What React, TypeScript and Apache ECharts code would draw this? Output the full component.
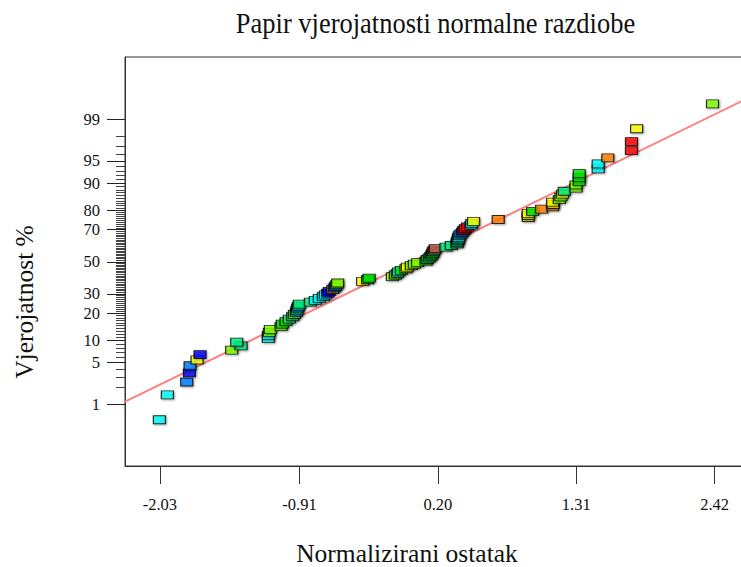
import React, { useEffect, useRef } from "react";
import * as echarts from "echarts";

// Normalised residuals, sorted (x values)
const residuals = [
  -2.034, -1.97, -1.815, -1.793, -1.788, -1.732, -1.708, -1.454, -1.379, -1.414,
  -1.16, -1.16, -1.152, -1.144, -1.058, -1.048, -1.018, -0.992, -0.965, -0.951,
  -0.935, -0.931, -0.925, -0.919, -0.911, -0.823, -0.783, -0.751, -0.719, -0.703,
  -0.684, -0.671, -0.644, -0.631, -0.62, -0.611, -0.604, -0.404, -0.364, -0.352,
  -0.165, -0.141, -0.125, -0.115, -0.093, -0.056, -0.045, -0.013, 0.011, 0.037,
  0.105, 0.115, 0.131, 0.143, 0.151, 0.158, 0.163, 0.171, 0.179, 0.265,
  0.308, 0.353, 0.356, 0.36, 0.364, 0.368, 0.372, 0.384, 0.398, 0.408,
  0.42, 0.438, 0.466, 0.472, 0.486, 0.684, 0.925, 0.925, 0.925, 0.96,
  1.032, 1.12, 1.126, 1.12, 1.174, 1.187, 1.2, 1.214, 1.308, 1.308,
  1.334, 1.334, 1.334, 1.486, 1.486, 1.563, 1.753, 1.753, 1.794, 2.403,
];

// Probability (%) of each point
const probabilities = [
  0.5, 1.5, 2.5, 3.5, 4.5, 5.5, 6.5, 7.5, 8.5, 9.5,
  10.5, 11.5, 12.5, 13.5, 14.5, 15.5, 16.5, 17.5, 18.5, 19.5,
  20.5, 21.5, 22.5, 23.5, 24.5, 25.5, 26.5, 27.5, 28.5, 29.5,
  30.5, 31.5, 32.5, 33.5, 34.5, 35.5, 36.5, 37.5, 38.5, 39.5,
  40.5, 41.5, 42.5, 43.5, 44.5, 45.5, 46.5, 47.5, 48.5, 49.5,
  50.5, 51.5, 52.5, 53.5, 54.5, 55.5, 56.5, 57.5, 58.5, 59.5,
  60.5, 61.5, 62.5, 63.5, 64.5, 65.5, 66.5, 67.5, 68.5, 69.5,
  70.5, 71.5, 72.5, 73.5, 74.5, 75.5, 76.5, 77.5, 78.5, 79.5,
  80.5, 81.5, 82.5, 83.5, 84.5, 85.5, 86.5, 87.5, 88.5, 89.5,
  90.5, 91.5, 92.5, 93.5, 94.5, 95.5, 96.5, 97.5, 98.5, 99.5,
];

// Colour class of each point
const pointColors = [
  "C", "C", "B", "D", "B", "Y", "D", "L", "A", "A",
  "C", "C", "L", "L", "L", "G", "G", "A", "A", "L",
  "B", "A", "B", "A", "A", "A", "C", "C", "C", "C",
  "D", "D", "O", "B", "B", "L", "L", "Y", "G", "G",
  "L", "L", "A", "C", "G", "Y", "Y", "L", "L", "L",
  "G", "G", "C", "G", "G", "G", "A", "W", "W", "A",
  "A", "A", "A", "A", "C", "C", "C", "B", "B", "R",
  "R", "R", "C", "C", "Y", "O", "Y", "Y", "Y", "G",
  "O", "O", "Y", "Y", "L", "L", "Y", "A", "L", "L",
  "G", "G", "G", "C", "C", "O", "R", "R", "Y", "L",
];

const majorPct = [1, 5, 10, 20, 30, 50, 70, 80, 90, 95, 99];
const minorPct = [
  2, 3, 4, 6, 7, 8, 9, 11, 12, 13, 14, 15, 16, 17, 18, 19,
  21, 22, 23, 24, 25, 26, 27, 28, 29, 31, 32, 33, 34, 35, 36, 37, 38, 39,
  40, 41, 42, 43, 44, 45, 46, 47, 48, 49, 51, 52, 53, 54, 55, 56, 57, 58, 59,
  60, 61, 62, 63, 64, 65, 66, 67, 68, 69, 71, 72, 73, 74, 75, 76, 77, 78, 79,
  81, 82, 83, 84, 85, 86, 87, 88, 89, 91, 92, 93, 94, 96, 97, 98,
];
const xTicks = [-2.03, -0.91, 0.2, 1.31, 2.42];

// Fitted normal line (residual, normal score)
const fitX = [-2.31, 2.8];
const fitZ = [-2.28, 2.781];

const palette: Record<string, string> = {
  C: "#00ffff",
  B: "#0080ff",
  D: "#0000ff",
  A: "#00f080",
  G: "#00e600",
  L: "#80ff00",
  Y: "#ffff00",
  O: "#ff8000",
  R: "#ff0000",
  W: "#b85a50",
};

function probit(p: number): number {
  const a = [-3.969683028665376e1, 2.209460984245205e2, -2.759285104469687e2, 1.38357751867269e2, -3.066479806614716e1, 2.506628277459239];
  const b = [-5.447609879822406e1, 1.615858368580409e2, -1.556989798598866e2, 6.680131188771972e1, -1.328068155288572e1];
  const c = [-7.784894002430293e-3, -3.223964580411365e-1, -2.400758277161838, -2.549732539343734, 4.374664141464968, 2.938163982698783];
  const d = [7.784695709041462e-3, 3.224671290700398e-1, 2.445134137142996, 3.754408661907416];
  const pl = 0.02425;
  const ph = 1 - pl;
  if (p < pl) {
    const q = Math.sqrt(-2 * Math.log(p));
    return (((((c[0] * q + c[1]) * q + c[2]) * q + c[3]) * q + c[4]) * q + c[5]) / ((((d[0] * q + d[1]) * q + d[2]) * q + d[3]) * q + 1);
  }
  if (p <= ph) {
    const q = p - 0.5;
    const r = q * q;
    return ((((((a[0] * r + a[1]) * r + a[2]) * r + a[3]) * r + a[4]) * r + a[5]) * q) / (((((b[0] * r + b[1]) * r + b[2]) * r + b[3]) * r + b[4]) * r + 1);
  }
  const q = Math.sqrt(-2 * Math.log(1 - p));
  return -(((((c[0] * q + c[1]) * q + c[2]) * q + c[3]) * q + c[4]) * q + c[5]) / ((((d[0] * q + d[1]) * q + d[2]) * q + d[3]) * q + 1);
}

const SERIF = "'Liberation Serif', 'Times New Roman', serif";

export default function App() {
  const ref = useRef<HTMLDivElement>(null);

  useEffect(() => {
    if (!ref.current) return;
    const chart = echarts.init(ref.current, undefined, { renderer: "svg" });

    const majorZ = majorPct.map((p) => probit(p / 100));
    const minorZ = minorPct.map((p) => probit(p / 100));

    const points = residuals.map((x, i) => ({
      value: [x, probit(probabilities[i] / 100)],
      itemStyle: { color: palette[pointColors[i]] },
    }));

    const option: any = {
      animation: false,
      backgroundColor: "#ffffff",
      grid: {
        left: 125,
        right: 0,
        top: 57,
        bottom: 101,
        show: true,
        borderColor: "#333",
        borderWidth: 1,
        containLabel: false,
      },
      xAxis: {
        type: "value",
        min: -2.31,
        max: 2.8,
        axisLine: { show: true, onZero: false, lineStyle: { color: "#333", width: 1 } },
        axisTick: { show: true, length: 18, customValues: xTicks, lineStyle: { color: "#333" } },
        axisLabel: {
          customValues: xTicks,
          formatter: (v: number) => v.toFixed(2),
          fontFamily: SERIF,
          fontSize: 16.5,
          color: "#111",
          margin: 30,
        },
        splitLine: { show: false },
      },
      yAxis: [
        {
          type: "value",
          position: "left",
          min: -3.33,
          max: 3.34,
          axisLine: { show: true, onZero: false, lineStyle: { color: "#333", width: 1 } },
          axisTick: { show: true, length: 18, customValues: majorZ, lineStyle: { color: "#222" } },
          axisLabel: {
            customValues: majorZ,
            formatter: (v: number) => {
              const idx = majorZ.findIndex((z) => Math.abs(z - v) < 1e-6);
              return idx >= 0 ? String(majorPct[idx]) : "";
            },
            fontFamily: SERIF,
            fontSize: 16.5,
            color: "#111",
            margin: 25,
          },
          splitLine: { show: false },
        },
        {
          type: "value",
          position: "left",
          offset: 0,
          min: -3.33,
          max: 3.34,
          axisLine: { show: false, onZero: false },
          axisTick: { show: true, length: 9, customValues: minorZ, lineStyle: { color: "#444" } },
          axisLabel: { show: false },
          splitLine: { show: false },
        },
      ],
      series: [
        {
          type: "line",
          data: [
            [fitX[0], fitZ[0]],
            [fitX[1], fitZ[1]],
          ],
          showSymbol: false,
          symbol: "none",
          clip: true,
          lineStyle: { color: "#ff7f7f", width: 2 },
          z: 1,
          silent: true,
        },
        {
          type: "scatter",
          symbol: "rect",
          symbolSize: [12, 8],
          data: points,
          itemStyle: {
            borderColor: "#000",
            borderWidth: 1,
            shadowBlur: 2,
            shadowColor: "rgba(0,0,0,0.45)",
            shadowOffsetX: 1,
            shadowOffsetY: 1,
          },
          z: 2,
        },
      ],
      graphic: [
        {
          type: "text",
          x: 435.5,
          y: 23.5,
          scaleY: 1.1,
          style: {
            text: "Papir vjerojatnosti normalne razdiobe",
            fontFamily: SERIF,
            fontSize: 26.5,
            fill: "#111",
            align: "center",
            verticalAlign: "middle",
          },
        },
        {
          type: "text",
          x: 407,
          y: 553.5,
          style: {
            text: "Normalizirani ostatak",
            fontFamily: SERIF,
            fontSize: 25.5,
            fill: "#111",
            align: "center",
            verticalAlign: "middle",
          },
        },
        {
          type: "text",
          x: 24.5,
          y: 302,
          rotation: Math.PI / 2,
          style: {
            text: "Vjerojatnost %",
            fontFamily: SERIF,
            fontSize: 25.5,
            fill: "#111",
            align: "center",
            verticalAlign: "middle",
          },
        },
      ],
    };

    chart.setOption(option);
    return () => chart.dispose();
  }, []);

  return (
    <div
      style={{
        position: "absolute",
        left: 0,
        top: 0,
        width: 741,
        height: 567,
        overflow: "hidden",
        background: "#fff",
      }}
    >
      <div ref={ref} style={{ width: 762, height: 567 }} />
    </div>
  );
}
